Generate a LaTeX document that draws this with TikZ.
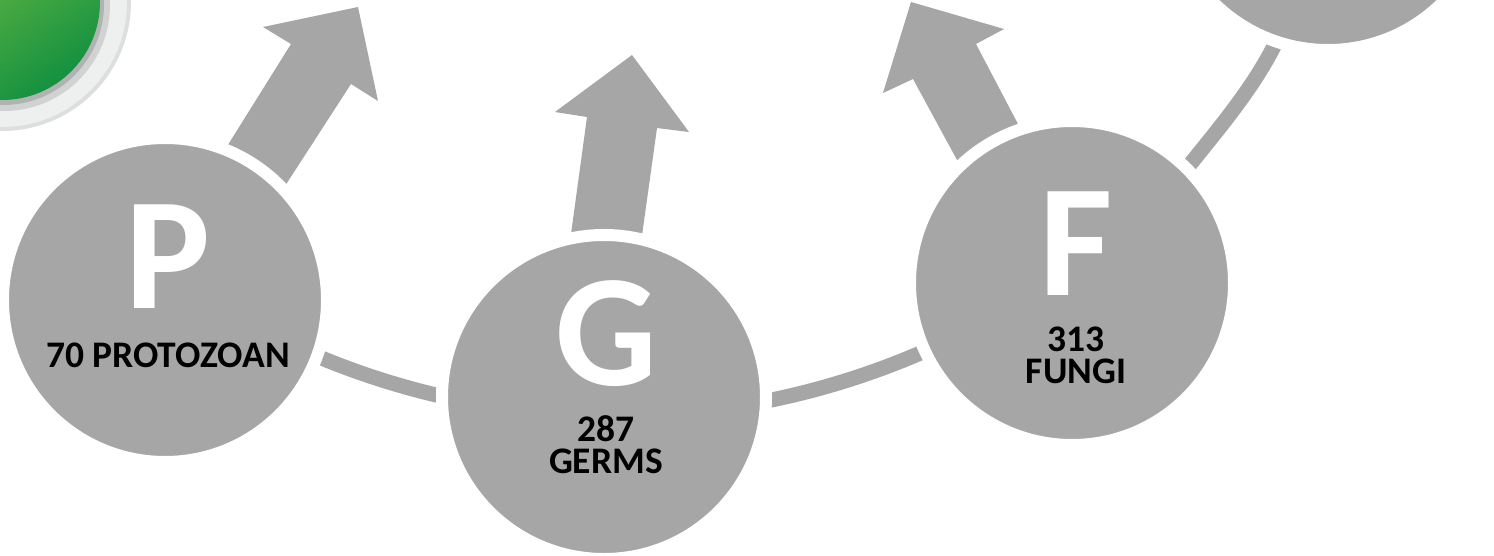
\documentclass[tikz,border=0pt]{standalone}
\usepackage{fontspec}
\setmainfont{Carlito}
\usetikzlibrary{backgrounds,calc}
\definecolor{bubble}{HTML}{A6A6A6}
\definecolor{ringout}{HTML}{DDDFDE}
\definecolor{ringin}{HTML}{EEF0EF}
\definecolor{shadowc}{HTML}{9C9F9E}
\definecolor{greenlight}{HTML}{7CC143}
\definecolor{greendark}{HTML}{149140}
\newcommand{\bubbleletter}[1]{{\fontsize{160}{160}\selectfont\color{white}#1}}
\begin{document}
\begin{tikzpicture}[x=1pt,y=-1pt,
  bubblenode/.style={circle, fill=bubble, draw=white, line width=12pt, minimum size=324pt, inner sep=0pt},
  band/.style={draw=bubble, line width=15pt},
  arrowpoly/.style={fill=bubble},
  circletext/.style={text=black, font=\fontsize{37.5}{32}\selectfont\bfseries, inner sep=0pt, anchor=north, align=center},
]
\useasboundingbox (0,0) rectangle (1494,555);

% title circle (top-left)
\fill[ringout] (2,2) circle (129);
\fill[ringin] (2,2) circle (125);
\fill[shadowc, opacity=0.35] (4,5) circle (106);
\fill[shadowc, opacity=0.6] (3,4) circle (101);
\shade[top color=greenlight, bottom color=greendark, shading angle=35] (2,2) circle (98);

% circles
\node[bubblenode] (P) at (165,300) {};
\node[bubblenode] (G) at (604,397) {};
\node[bubblenode] (F) at (1072,283) {};
\node[bubblenode] (T) at (1328,-112) {};

\coordinate (pgstart) at ($(615,-356)+(115:772)$);
\coordinate (ftstart) at (1180,177);
\coordinate (ftend) at (1284,24);

\begin{pgfonlayer}{background}
  \fill[white] (0,0) rectangle (1494,555);
  % connecting bands
  \draw[band] (pgstart) arc[start angle=115, end angle=65, radius=772];
  \draw[band] (ftstart) .. controls (1217,130) and (1262,80) .. (ftend);
  % arrows
  \fill[arrowpoly] (358,7) -- (378,101) -- (351,84) -- (274,203) -- (216,164) -- (291,44) -- (263,27) -- cycle;
  \fill[arrowpoly] (632,55) -- (689,132) -- (657,128) -- (639,257) -- (568,256) -- (587,117) -- (555,112) -- cycle;
  \fill[arrowpoly] (911,2) -- (1004,29) -- (976,44) -- (1029,145) -- (969,182) -- (913,79) -- (883,93) -- cycle;
\end{pgfonlayer}

% texts
\node[circletext] (Pt) at (168,205) {\bubbleletter{P}\\[26.5pt]70 PROTOZOAN};
\node[circletext] (Gt) at (606,280) {\bubbleletter{G}\\[24.5pt]287\\GERMS};
\node[circletext] (Ft) at (1076,192) {\bubbleletter{F}\\[24pt]313\\FUNGI};
\end{tikzpicture}
\end{document}
